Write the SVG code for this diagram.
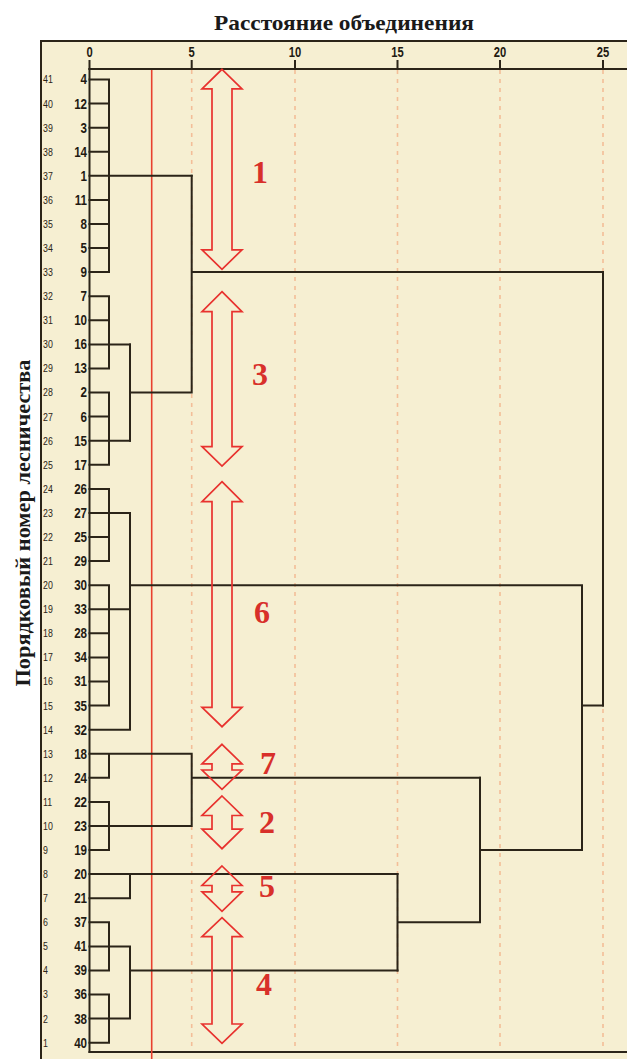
<svg xmlns="http://www.w3.org/2000/svg" width="627" height="1059" viewBox="0 0 627 1059">
<defs>
<style>
.frame{fill:#F6EFD2;stroke:#2b2418;stroke-width:2}
.ln{stroke:#2b2418;stroke-width:2;fill:none;stroke-linecap:square}
.grid{stroke:#F3BE98;stroke-width:1.6;stroke-dasharray:4 5;fill:none}
.red{stroke:#E8402E;stroke-width:1.6;fill:none}
.arr{stroke:#E8322E;stroke-width:1.7;fill:none;stroke-linejoin:miter}
.leaf{font-family:"Liberation Sans",Arial,sans-serif;font-weight:bold;font-size:14.5px;fill:#1f1a12;text-anchor:end}
.row{font-family:"Liberation Sans",Arial,sans-serif;font-size:11px;fill:#2b2418}
.tick{font-family:"Liberation Sans",Arial,sans-serif;font-weight:bold;font-size:14px;fill:#1f1a12;text-anchor:middle}
.title{font-family:"Liberation Serif",serif;font-weight:bold;font-size:22px;fill:#1a1a1a;text-anchor:middle}
.num{font-family:"Liberation Serif",serif;font-weight:bold;font-size:32px;fill:#D8302A;text-anchor:middle}
</style>
</defs>
<rect x="0" y="0" width="627" height="1059" fill="#ffffff"/>
<g id="frame">
<rect class="frame" x="41" y="41" width="600" height="1030"/>
</g>
<text class="title" x="344" y="30" textLength="260" lengthAdjust="spacingAndGlyphs">Расстояние объединения</text>
<text class="title" transform="translate(30,523) rotate(-90)" font-size="25" textLength="327" lengthAdjust="spacingAndGlyphs">Порядковый номер лесничества</text>
<g id="grid">
<line class="grid" x1="191.7" y1="70" x2="191.7" y2="1051"/>
<line class="grid" x1="295" y1="70" x2="295" y2="1051"/>
<line class="grid" x1="397.5" y1="70" x2="397.5" y2="1051"/>
<line class="grid" x1="500" y1="70" x2="500" y2="1051"/>
<line class="grid" x1="603" y1="70" x2="603" y2="1051"/>
</g>
<g id="axis">
<line class="ln" x1="89.5" y1="69" x2="627" y2="69"/>
<line class="ln" x1="89.5" y1="61" x2="89.5" y2="69"/>
<line class="ln" x1="191.7" y1="61" x2="191.7" y2="69"/>
<line class="ln" x1="295" y1="61" x2="295" y2="69"/>
<line class="ln" x1="397.5" y1="61" x2="397.5" y2="69"/>
<line class="ln" x1="500" y1="61" x2="500" y2="69"/>
<line class="ln" x1="603" y1="61" x2="603" y2="69"/>
<g transform="scale(0.8,1)">
<text class="tick" x="111.9" y="57">0</text>
<text class="tick" x="239.6" y="57">5</text>
<text class="tick" x="368.8" y="57">10</text>
<text class="tick" x="496.9" y="57">15</text>
<text class="tick" x="625" y="57">20</text>
<text class="tick" x="753.8" y="57">25</text>
</g>
<line class="ln" x1="89.5" y1="69" x2="89.5" y2="1052"/>
<line class="ln" x1="89.5" y1="1052" x2="627" y2="1052"/>
</g>
<line id="cutline" class="red" x1="151.7" y1="70" x2="151.7" y2="1059"/>
<g id="row-numbers" transform="scale(0.8,1)">
<text class="row" x="53.8" y="83.5">41</text>
<text class="row" x="53.8" y="107.6">40</text>
<text class="row" x="53.8" y="131.7">39</text>
<text class="row" x="53.8" y="155.7">38</text>
<text class="row" x="53.8" y="179.8">37</text>
<text class="row" x="53.8" y="203.9">36</text>
<text class="row" x="53.8" y="228">35</text>
<text class="row" x="53.8" y="252.1">34</text>
<text class="row" x="53.8" y="276.1">33</text>
<text class="row" x="53.8" y="300.2">32</text>
<text class="row" x="53.8" y="324.3">31</text>
<text class="row" x="53.8" y="348.4">30</text>
<text class="row" x="53.8" y="372.5">29</text>
<text class="row" x="53.8" y="396.5">28</text>
<text class="row" x="53.8" y="420.6">27</text>
<text class="row" x="53.8" y="444.7">26</text>
<text class="row" x="53.8" y="468.8">25</text>
<text class="row" x="53.8" y="492.9">24</text>
<text class="row" x="53.8" y="516.9">23</text>
<text class="row" x="53.8" y="541">22</text>
<text class="row" x="53.8" y="565.1">21</text>
<text class="row" x="53.8" y="589.2">20</text>
<text class="row" x="53.8" y="613.3">19</text>
<text class="row" x="53.8" y="637.3">18</text>
<text class="row" x="53.8" y="661.4">17</text>
<text class="row" x="53.8" y="685.5">16</text>
<text class="row" x="53.8" y="709.6">15</text>
<text class="row" x="53.8" y="733.7">14</text>
<text class="row" x="53.8" y="757.7">13</text>
<text class="row" x="53.8" y="781.8">12</text>
<text class="row" x="53.8" y="805.9">11</text>
<text class="row" x="53.8" y="830">10</text>
<text class="row" x="53.8" y="854.1">9</text>
<text class="row" x="53.8" y="878.1">8</text>
<text class="row" x="53.8" y="902.2">7</text>
<text class="row" x="53.8" y="926.3">6</text>
<text class="row" x="53.8" y="950.4">5</text>
<text class="row" x="53.8" y="974.5">4</text>
<text class="row" x="53.8" y="998.5">3</text>
<text class="row" x="53.8" y="1022.6">2</text>
<text class="row" x="53.8" y="1046.7">1</text>
</g>
<g id="leaves" transform="scale(0.8,1)">
<text class="leaf" x="108.8" y="84.5">4</text>
<text class="leaf" x="108.8" y="108.6">12</text>
<text class="leaf" x="108.8" y="132.7">3</text>
<text class="leaf" x="108.8" y="156.7">14</text>
<text class="leaf" x="108.8" y="180.8">1</text>
<text class="leaf" x="108.8" y="204.9">11</text>
<text class="leaf" x="108.8" y="229">8</text>
<text class="leaf" x="108.8" y="253.1">5</text>
<text class="leaf" x="108.8" y="277.1">9</text>
<text class="leaf" x="108.8" y="301.2">7</text>
<text class="leaf" x="108.8" y="325.3">10</text>
<text class="leaf" x="108.8" y="349.4">16</text>
<text class="leaf" x="108.8" y="373.5">13</text>
<text class="leaf" x="108.8" y="397.5">2</text>
<text class="leaf" x="108.8" y="421.6">6</text>
<text class="leaf" x="108.8" y="445.7">15</text>
<text class="leaf" x="108.8" y="469.8">17</text>
<text class="leaf" x="108.8" y="493.9">26</text>
<text class="leaf" x="108.8" y="517.9">27</text>
<text class="leaf" x="108.8" y="542">25</text>
<text class="leaf" x="108.8" y="566.1">29</text>
<text class="leaf" x="108.8" y="590.2">30</text>
<text class="leaf" x="108.8" y="614.3">33</text>
<text class="leaf" x="108.8" y="638.3">28</text>
<text class="leaf" x="108.8" y="662.4">34</text>
<text class="leaf" x="108.8" y="686.5">31</text>
<text class="leaf" x="108.8" y="710.6">35</text>
<text class="leaf" x="108.8" y="734.7">32</text>
<text class="leaf" x="108.8" y="758.7">18</text>
<text class="leaf" x="108.8" y="782.8">24</text>
<text class="leaf" x="108.8" y="806.9">22</text>
<text class="leaf" x="108.8" y="831">23</text>
<text class="leaf" x="108.8" y="855.1">19</text>
<text class="leaf" x="108.8" y="879.1">20</text>
<text class="leaf" x="108.8" y="903.2">21</text>
<text class="leaf" x="108.8" y="927.3">37</text>
<text class="leaf" x="108.8" y="951.4">41</text>
<text class="leaf" x="108.8" y="975.5">39</text>
<text class="leaf" x="108.8" y="999.5">36</text>
<text class="leaf" x="108.8" y="1023.6">38</text>
<text class="leaf" x="108.8" y="1047.7">40</text>
</g>
<g id="connectors">
<path class="ln" d="M89.5,79.5H109M89.5,103.6H109M89.5,127.7H109M89.5,151.7H109M89.5,175.8H191.7M89.5,199.9H109M89.5,224H109M89.5,248.1H109M89.5,272.1H109M109,79.5V272.1"/>
<path class="ln" d="M89.5,296.2H109M89.5,320.3H109M89.5,344.4H130M89.5,368.5H109M109,296.2V368.5"/>
<path class="ln" d="M89.5,392.5H109M89.5,416.6H109M89.5,440.7H130M89.5,464.8H109M109,392.5V464.8"/>
<path class="ln" d="M130,344.4V440.7M130,392.5H191.7M191.7,175.8V392.5M191.7,272.1H603M603,272.1V705.6"/>
<path class="ln" d="M89.5,488.9H109M89.5,512.9H130M89.5,537H109M89.5,561.1H109M109,488.9V561.1"/>
<path class="ln" d="M89.5,585.2H109M89.5,609.3H130M89.5,633.3H109M89.5,657.4H109M89.5,681.5H109M89.5,705.6H109M109,585.2V705.6"/>
<path class="ln" d="M89.5,729.7H130M130,512.9V729.7M130,585.2H582M582,585.2V850.1M582,705.6H603"/>
<path class="ln" d="M89.5,753.7H191.7M89.5,777.8H109M109,753.7V777.8M89.5,801.9H109M89.5,826H191.7M89.5,850.1H109M109,801.9V850.1M191.7,753.7V826M191.7,777.8H480"/>
<path class="ln" d="M89.5,874.1H397.5M89.5,898.2H130M130,874.1V898.2"/>
<path class="ln" d="M89.5,922.3H109M89.5,946.4H130M89.5,970.5H109M109,922.3V970.5M89.5,994.5H109M89.5,1018.6H130M89.5,1042.7H109M109,994.5V1042.7M130,946.4V1018.6M130,970.5H397.5"/>
<path class="ln" d="M397.5,874.1V970.5M397.5,922.3H480M480,777.8V922.3M480,850.1H582"/>
</g>
<g id="cluster-1">
<path class="arr" d="M222,69.3L242,88.8H232V249.8H242L222,269.3L202,249.8H212V88.8H202Z"/>
<text class="num" x="260" y="183">1</text>
</g>
<g id="cluster-3">
<path class="arr" d="M222,291.7L242,311.7H232V446.7H242L222,466L202,446.7H212V311.7H202Z"/>
<text class="num" x="260" y="385">3</text>
</g>
<g id="cluster-6">
<path class="arr" d="M222,481.7L242,501.7H232V707.3H242L222,726.7L202,707.3H212V501.7H202Z"/>
<text class="num" x="262" y="623">6</text>
</g>
<g id="cluster-7">
<path class="arr" d="M222,744.3L242,763.8H232V770H242L222,789.3L202,770H212V763.8H202Z"/>
<text class="num" x="268" y="774">7</text>
</g>
<g id="cluster-2">
<path class="arr" d="M222,796L242,815.5H232V829.2H242L222,848.7L202,829.2H212V815.5H202Z"/>
<text class="num" x="267" y="833">2</text>
</g>
<g id="cluster-5">
<path class="arr" d="M222,866L242,885.5H232V891.8H242L222,911.3L202,891.8H212V885.5H202Z"/>
<text class="num" x="267" y="897">5</text>
</g>
<g id="cluster-4">
<path class="arr" d="M222,917.7L242,936.7H232V1024H242L222,1043.3L202,1024H212V936.7H202Z"/>
<text class="num" x="264" y="995">4</text>
</g>
</svg>
